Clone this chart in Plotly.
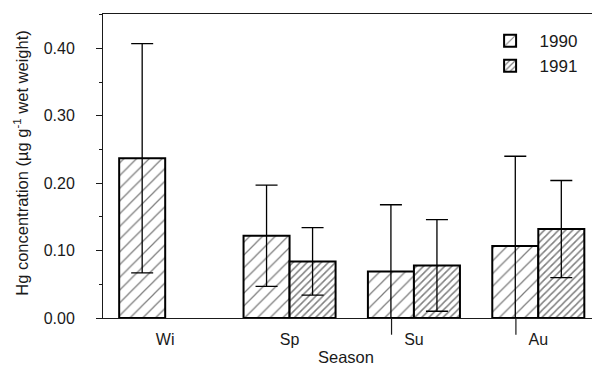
import plotly.graph_objects as go

seasons = ["Wi", "Sp", "Su", "Au"]
hg_1990 = [0.237, 0.122, 0.069, 0.107]
err_1990 = [0.170, 0.075, 0.099, 0.133]
hg_1991 = [None, 0.084, 0.078, 0.132]
err_1991 = [0, 0.050, 0.068, 0.072]
y_ticks = [0.0, 0.1, 0.2, 0.3, 0.4]
y_tick_labels = ["0.00", "0.10", "0.20", "0.30", "0.40"]
y_title = "Hg concentration (µg g<sup>-1</sup> wet weight)"
x_title = "Season"

FONT = "Liberation Sans, Arial, Helvetica, sans-serif"
NB = "\u00a0"

fig = go.Figure()
fig.add_trace(go.Bar(
    name=NB * 2 + "1990", x=seasons, y=hg_1990,
    error_y=dict(type="data", array=err_1990, color="black", thickness=1.3, width=11),
    marker=dict(color="white", line=dict(color="black", width=2),
                pattern=dict(shape="/", size=9, solidity=0.14, fgcolor="black",
                             bgcolor="white", fillmode="overlay")),
))
fig.add_trace(go.Bar(
    name=NB * 2 + "1991", x=seasons, y=hg_1991,
    error_y=dict(type="data", array=err_1991, color="black", thickness=1.3, width=11),
    marker=dict(color="white", line=dict(color="black", width=2),
                pattern=dict(shape="/", size=5, solidity=0.3, fgcolor="black",
                             bgcolor="white", fillmode="overlay")),
))

fig.update_layout(
    width=592, height=358,
    margin=dict(l=95, r=2, t=6, b=48, autoexpand=False),
    paper_bgcolor="white", plot_bgcolor="white",
    barmode="group", bargap=0.26, bargroupgap=0,
    font=dict(family=FONT, size=15, color="#1a1a1a"),
    showlegend=True,
    legend=dict(x=0.782, y=0.97, xanchor="left", yanchor="top",
                bgcolor="rgba(0,0,0,0)", font=dict(size=17),
                itemwidth=30, tracegroupgap=0),
    xaxis=dict(
        type="category", range=[-0.5, 3.48], automargin=False,
        showline=True, linecolor="#1a1a1a", linewidth=1.3, mirror=True,
        ticks="outside", ticklen=7, tickcolor="rgba(0,0,0,0)",
        showgrid=False, zeroline=False,
        tickfont=dict(size=16),
    ),
    yaxis=dict(
        range=[0, 0.451], tickvals=y_ticks,
        ticktext=[t + NB * 4 for t in y_tick_labels], automargin=False,
        showline=True, linecolor="#1a1a1a", linewidth=1.3, mirror=True,
        ticks="outside", ticklen=6, tickwidth=1.2, tickcolor="#1a1a1a",
        minor=dict(dtick=0.05, ticks="outside", ticklen=3, tickwidth=1, tickcolor="#1a1a1a"),
        showgrid=False, zeroline=False,
        tickfont=dict(size=16),
    ),
    annotations=[
        dict(text=y_title, textangle=-90, xref="paper", yref="paper",
             x=-0.166, y=0.51, xanchor="center", yanchor="middle",
             showarrow=False, font=dict(size=16.5, family=FONT, color="#1a1a1a")),
        dict(text=x_title, xref="paper", yref="paper",
             x=0.491, y=-0.127, xanchor="center", yanchor="middle",
             showarrow=False, borderpad=0,
             font=dict(size=16.5, family=FONT, color="#1a1a1a")),
    ],
)

# stray tick marks below the x-axis in the original
for xv in [1.82, 2.82]:
    fig.add_shape(type="line", xref="x", yref="paper", x0=xv, x1=xv, y0=0, y1=-0.055,
                  line=dict(color="#1a1a1a", width=1.2))

fig.write_html("out.html")
